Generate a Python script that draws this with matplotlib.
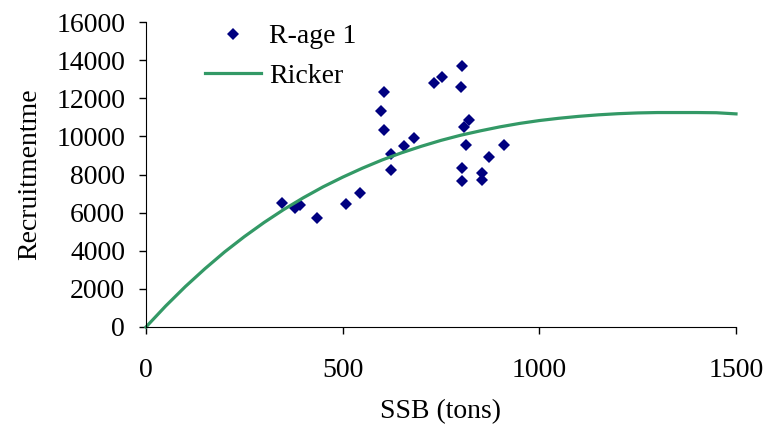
import matplotlib
matplotlib.use("Agg")
from matplotlib import pyplot as plt

# observed recruitment (R-age 1) vs SSB
ssb_obs = [346, 378, 392, 436, 509, 545, 598, 606, 606, 623, 623, 655, 682,
           732, 752, 801, 804, 804, 804, 809, 813, 821, 853, 853, 872, 910]
rec_obs = [6490, 6230, 6400, 5720, 6470, 7050, 11330, 12340, 10340, 9090, 8250,
           9500, 9920, 12790, 13130, 12610, 13710, 8330, 7660, 10510, 9560,
           10860, 8080, 7730, 8900, 9560]

# Ricker curve
ssb_fit = [0, 50, 100, 150, 200, 250, 300, 350, 400, 450, 500, 550, 600, 650,
           700, 750, 800, 850, 900, 950, 1000, 1050, 1100, 1150, 1200, 1250,
           1300, 1350, 1400, 1450, 1500]
rec_fit = [0, 1100, 2120, 3060, 3940, 4740, 5480, 6160, 6780, 7350, 7860, 8330,
           8760, 9140, 9480, 9790, 10060, 10290, 10500, 10680, 10830, 10950,
           11050, 11130, 11190, 11230, 11250, 11250, 11250, 11240, 11180]

plt.rcParams['font.family'] = ['Liberation Serif', 'DejaVu Serif']
fs = 20

fig = plt.figure(figsize=(7.65, 4.3), dpi=100)
ax = fig.add_axes([146/765, 1 - 327/430, 590/765, 305/430])

ax.plot(ssb_obs, rec_obs, linestyle='none', marker='D', markersize=6,
        color='#000080', markeredgewidth=0, label='R-age 1')
ax.plot(ssb_fit, rec_fit, color='#339966', linewidth=2.3, label='Ricker',
        clip_on=False)

ax.set_xlim(0, 1500)
ax.set_ylim(0, 16000)
ax.set_xticks([0, 500, 1000, 1500])
ax.set_yticks(range(0, 16001, 2000))
ax.spines['top'].set_visible(False)
ax.spines['right'].set_visible(False)
ax.tick_params(direction='out', length=5, width=1, labelsize=fs)
ax.tick_params(axis='x', pad=17)
ax.tick_params(axis='y', pad=10)

ax.set_xlabel('SSB (tons)', fontsize=fs, labelpad=12)
ax.set_ylabel('Recruitmentme', fontsize=fs, labelpad=10)

ax.legend(loc='upper left', bbox_to_anchor=(205/765, 1 - 24/430),
          bbox_transform=fig.transFigure, frameon=False, fontsize=fs,
          borderpad=0, borderaxespad=0, handlelength=2.0, handletextpad=0.3,
          labelspacing=0.5)

fig.savefig('out.png', dpi=100)
